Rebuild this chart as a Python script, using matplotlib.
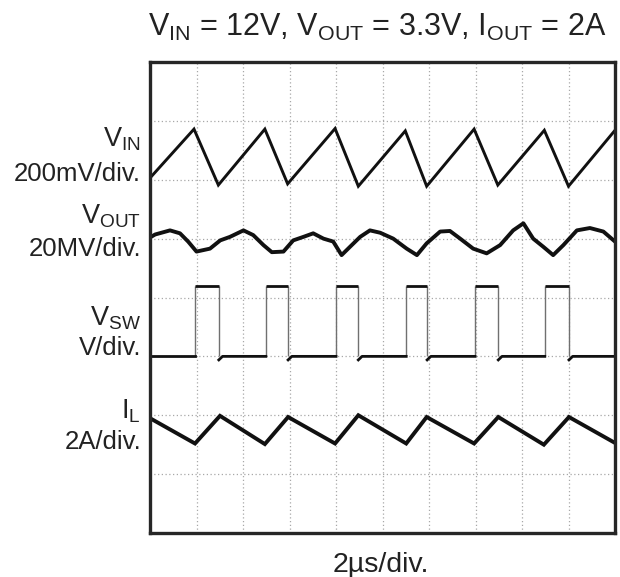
import matplotlib
matplotlib.use('Agg')
import matplotlib.pyplot as plt

# ---------------- data (x: time divisions of 2 us, y: screen divisions from bottom) -------------
vin_t = [0, 0.946, 1.47, 2.47, 2.96, 3.98, 4.48, 5.49, 5.95, 6.97, 7.48, 8.48, 9.00, 10.0]
vin_v = [6.03, 6.86, 5.91, 6.86, 5.93, 6.87, 5.89, 6.83, 5.89, 6.86, 5.91, 6.84, 5.89, 6.84]

vout_t = [0.0, 0.11, 0.43, 0.645, 0.82, 1.00, 1.29, 1.51, 1.72, 2.01, 2.22, 2.44, 2.62, 2.87,
          3.08, 3.30, 3.51, 3.73, 3.94, 4.12, 4.30, 4.52, 4.73, 4.95, 5.23, 5.52, 5.74, 5.95,
          6.24, 6.45, 6.67, 6.95, 7.24, 7.53, 7.81, 8.03, 8.24, 8.46, 8.67, 8.89, 9.18, 9.46,
          9.75, 10.0]
vout_v = [5.02, 5.07, 5.14, 5.09, 4.95, 4.78, 4.83, 4.97, 5.03, 5.14, 5.06, 4.89, 4.77, 4.78,
          4.97, 5.03, 5.09, 5.00, 4.95, 4.72, 4.86, 5.03, 5.14, 5.10, 5.00, 4.83, 4.72, 4.92,
          5.12, 5.13, 5.00, 4.83, 4.75, 4.89, 5.14, 5.26, 5.00, 4.86, 4.72, 4.89, 5.14, 5.18,
          5.12, 4.95]

vsw_rise = [0.968, 2.49, 4.00, 5.51, 6.99, 8.49]
vsw_fall = [1.48, 2.97, 4.48, 5.96, 7.49, 9.01]
vsw_low = 3.0
vsw_high = 4.20
vsw_dip = 2.94

il_t = [0, 0.968, 1.505, 2.47, 2.97, 3.98, 4.48, 5.51, 5.95, 6.97, 7.49, 8.47, 9.01, 10.0]
il_v = [1.95, 1.52, 1.99, 1.51, 1.97, 1.52, 2.00, 1.52, 1.97, 1.52, 1.97, 1.50, 1.97, 1.53]

trace_names = [r'$V_{IN}$', r'$V_{OUT}$', r'$V_{SW}$', r'$I_{L}$']
trace_scales = ['200mV/div.', '20MV/div.', 'V/div.', '2A/div.']
title_text = r'$V_{IN}$ = 12V, $V_{OUT}$ = 3.3V, $I_{OUT}$ = 2A'
xlabel_text = '2\u00b5s/div.'
n_xdiv = 10
n_ydiv = 8

# ---------------- style -------------
plt.rcParams['font.family'] = ['Liberation Sans', 'DejaVu Sans']
plt.rcParams['mathtext.default'] = 'regular'
W, H = 620, 577
fig = plt.figure(figsize=(W / 100, H / 100), dpi=100)
L, R, T, B = 150, 615, 62, 533
ax = fig.add_axes([L / W, 1 - B / H, (R - L) / W, (B - T) / H])
ax.set_xlim(0, n_xdiv)
ax.set_ylim(0, n_ydiv)
ax.set_xticks(range(1, n_xdiv))
ax.set_yticks(range(1, n_ydiv))
ax.tick_params(length=0, labelbottom=False, labelleft=False)
ax.grid(True, color='#a8a8a8', linestyle=(0, (1, 2)), linewidth=0.9)
for s in ax.spines.values():
    s.set_linewidth(2.4)
    s.set_color('#262626')
    s.set_zorder(5)

tc = '#111111'
ax.plot(vin_t, vin_v, color=tc, lw=2.1, solid_joinstyle='miter', zorder=3)
ax.plot(vout_t, vout_v, color=tc, lw=2.8, zorder=3)
ax.plot(il_t, il_v, color=tc, lw=2.8, solid_joinstyle='miter', zorder=3)

# switching node: thick flat levels, thin fast edges
ax.vlines(vsw_rise, vsw_low, vsw_high, color='#707070', lw=1.0, zorder=2)
ax.vlines(vsw_fall, vsw_low, vsw_high, color='#707070', lw=1.0, zorder=2)
ax.hlines([vsw_high] * len(vsw_rise), vsw_rise, vsw_fall, color=tc, lw=2.0, zorder=3)
low_starts = [0] + vsw_fall
low_ends = vsw_rise + [n_xdiv]
for i, (a, b) in enumerate(zip(low_starts, low_ends)):
    if i == 0:
        ax.plot([a, b], [vsw_low, vsw_low], color=tc, lw=2.0, zorder=3)
    else:
        ax.plot([a, a + 0.08, b], [vsw_dip, vsw_low, vsw_low], color=tc, lw=2.0, zorder=3)

# ---------------- text -------------
txtc = '#222222'
name_base = [146.7, 223.3, 325.0, 418.3]
scale_base = [180.7, 256.0, 355.0, 449.3]
for nm, sc, yb1, yb2 in zip(trace_names, trace_scales, name_base, scale_base):
    fig.text(141 / W, 1 - yb1 / H, nm, ha='right', va='baseline', fontsize=19.5, color=txtc)
    fig.text(141 / W, 1 - yb2 / H, sc, ha='right', va='baseline', fontsize=18.5, color=txtc)

fig.text(377 / W, 1 - 36 / H, title_text, ha='center', va='baseline', fontsize=22, color=txtc)
fig.text(381 / W, 1 - 571.5 / H, xlabel_text, ha='center', va='baseline', fontsize=20.5, color=txtc)

fig.savefig('out.png', dpi=100)
